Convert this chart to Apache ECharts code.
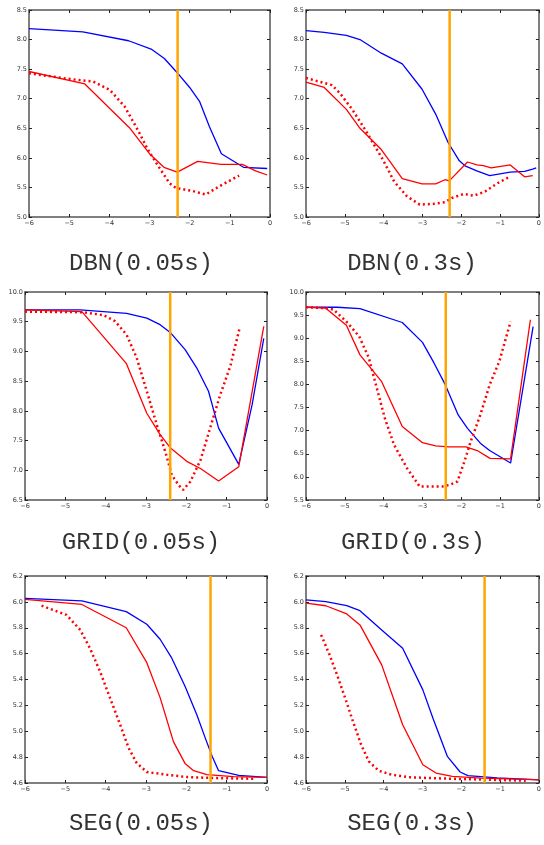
<!DOCTYPE html>
<html><head><meta charset="utf-8">
<script src="https://cdn.jsdelivr.net/npm/echarts@6/dist/echarts.min.js"></script>
<style>html,body{margin:0;padding:0;background:#fff}#c{width:544px;height:845px}</style>
</head><body><div id="c"></div>
<script>
// Panel titles
const titles = ['DBN(0.05s)', 'DBN(0.3s)', 'GRID(0.05s)', 'GRID(0.3s)', 'SEG(0.05s)', 'SEG(0.3s)'];
// y-axis ranges [min, max, interval]
const yRanges = [[5.0, 8.5, 0.5], [5.0, 8.5, 0.5], [6.5, 10.0, 0.5], [5.5, 10.0, 0.5], [4.6, 6.2, 0.2], [4.6, 6.2, 0.2]];
// orange vertical line positions (log10 x)
const vlineX = [-2.3, -2.3, -2.4, -2.4, -1.4, -1.4];

// DBN 0.05s
const dbn005Blue = [[-6,8.185],[-4.66,8.13],[-3.52,7.98],[-2.96,7.84],[-2.63,7.68],[-2.31,7.44],[-2.0,7.19],[-1.75,6.95],[-1.51,6.53],[-1.21,6.07],[-0.66,5.84],[-0.07,5.82]];
const dbn005Red = [[-6,7.46],[-4.61,7.25],[-3.5,6.51],[-3.0,6.07],[-2.64,5.84],[-2.31,5.76],[-1.8,5.94],[-1.22,5.89],[-0.69,5.89],[-0.36,5.78],[-0.07,5.71]];
const dbn005Dot = [[-6,7.43],[-5.07,7.34],[-4.4,7.29],[-3.99,7.15],[-3.62,6.87],[-3.29,6.47],[-3.04,6.14],[-2.83,5.91],[-2.5,5.57],[-2.34,5.49],[-1.93,5.44],[-1.6,5.38],[-1.26,5.52],[-0.77,5.70]];
// DBN 0.3s
const dbn03Blue = [[-6,8.15],[-5.53,8.12],[-4.96,8.07],[-4.61,8.0],[-4.06,7.77],[-3.52,7.59],[-3.01,7.16],[-2.66,6.74],[-2.34,6.26],[-2.05,5.95],[-1.89,5.86],[-1.6,5.78],[-1.27,5.7],[-0.74,5.76],[-0.37,5.77],[-0.16,5.81],[-0.07,5.83]];
const dbn03Red = [[-6,7.28],[-5.53,7.19],[-4.96,6.82],[-4.61,6.5],[-4.06,6.14],[-3.52,5.65],[-3.01,5.56],[-2.66,5.56],[-2.42,5.63],[-2.31,5.61],[-1.84,5.93],[-1.6,5.88],[-1.43,5.87],[-1.23,5.83],[-0.74,5.88],[-0.37,5.68],[-0.16,5.7]];
const dbn03Dot = [[-6,7.35],[-5.33,7.23],[-5.12,7.09],[-4.8,6.81],[-4.47,6.47],[-4.22,6.19],[-4.02,5.97],[-3.73,5.6],[-3.4,5.35],[-3.07,5.21],[-2.75,5.22],[-2.42,5.25],[-2.25,5.32],[-1.93,5.39],[-1.68,5.36],[-1.39,5.43],[-1.07,5.57],[-0.78,5.67]];
// GRID 0.05s
const grid005Blue = [[-6,9.7],[-4.63,9.7],[-3.48,9.64],[-2.98,9.56],[-2.65,9.45],[-2.4,9.32],[-2.03,9.03],[-1.74,8.72],[-1.45,8.33],[-1.2,7.71],[-0.7,7.1],[-0.37,8.1],[-0.08,9.22]];
const grid005Red = [[-6,9.7],[-4.59,9.67],[-3.49,8.8],[-2.98,7.96],[-2.65,7.6],[-2.4,7.38],[-1.99,7.15],[-1.65,7.03],[-1.2,6.82],[-0.7,7.06],[-0.08,9.42]];
const grid005Dot = [[-6,9.67],[-4.55,9.66],[-4.05,9.61],[-3.77,9.51],[-3.48,9.28],[-3.23,8.89],[-2.98,8.33],[-2.73,7.76],[-2.52,7.31],[-2.36,6.92],[-2.19,6.75],[-2.08,6.67],[-1.9,6.81],[-1.65,7.17],[-1.41,7.71],[-1.16,8.27],[-0.91,8.75],[-0.68,9.39]];
// GRID 0.3s
const grid03Blue = [[-6,9.67],[-5.2,9.67],[-4.61,9.64],[-3.52,9.34],[-3.0,8.91],[-2.7,8.46],[-2.41,7.99],[-2.08,7.34],[-1.84,7.05],[-1.51,6.73],[-1.27,6.57],[-0.73,6.3],[-0.15,9.25]];
const grid03Red = [[-6,9.67],[-5.49,9.65],[-4.96,9.28],[-4.61,8.64],[-4.05,8.06],[-3.52,7.09],[-3.0,6.74],[-2.66,6.67],[-2.33,6.65],[-1.88,6.65],[-1.59,6.57],[-1.26,6.4],[-0.73,6.39],[-0.22,9.4]];
const grid03Dot = [[-6,9.67],[-5.49,9.65],[-5.29,9.62],[-4.96,9.36],[-4.63,9.04],[-4.38,8.57],[-4.22,8.06],[-3.97,7.27],[-3.73,6.69],[-3.4,6.19],[-3.07,5.79],[-2.74,5.79],[-2.5,5.79],[-2.29,5.83],[-2.1,5.9],[-1.92,6.33],[-1.76,6.76],[-1.51,7.34],[-1.27,7.99],[-1.02,8.5],[-0.73,9.36]];
// SEG 0.05s
const seg005Blue = [[-6,6.027],[-4.59,6.007],[-3.49,5.925],[-2.98,5.827],[-2.65,5.711],[-2.36,5.565],[-2.03,5.346],[-1.74,5.127],[-1.53,4.947],[-1.36,4.806],[-1.2,4.695],[-0.7,4.659],[0,4.644]];
const seg005Red = [[-6,6.02],[-4.59,5.98],[-3.49,5.8],[-2.98,5.53],[-2.65,5.26],[-2.32,4.92],[-2.03,4.75],[-1.82,4.695],[-1.49,4.664],[-0.83,4.65],[0,4.644]];
const seg005Dot = [[-5.59,5.971],[-4.97,5.899],[-4.63,5.783],[-4.39,5.642],[-4.14,5.462],[-3.89,5.256],[-3.64,5.05],[-3.43,4.87],[-3.23,4.754],[-2.98,4.685],[-2.48,4.664],[-1.99,4.646],[-1.32,4.638],[-0.33,4.633]];
// SEG 0.3s
const seg03Blue = [[-6,6.015],[-5.49,6.002],[-4.95,5.971],[-4.61,5.932],[-4.05,5.783],[-3.51,5.642],[-2.99,5.32],[-2.73,5.101],[-2.36,4.806],[-2.03,4.685],[-1.83,4.657],[-1.08,4.639],[-0.12,4.626],[0,4.625]];
const seg03Red = [[-6,5.99],[-5.49,5.97],[-4.95,5.907],[-4.61,5.822],[-4.05,5.513],[-3.51,5.05],[-2.99,4.741],[-2.65,4.677],[-2.23,4.651],[-1.49,4.638],[-0.12,4.626],[0,4.625]];
const seg03Dot = [[-5.61,5.745],[-5.41,5.603],[-5.2,5.436],[-4.99,5.256],[-4.79,5.076],[-4.58,4.896],[-4.38,4.767],[-4.13,4.695],[-3.8,4.664],[-3.31,4.644],[-2.31,4.633],[-0.34,4.618]];

const blues = [dbn005Blue, dbn03Blue, grid005Blue, grid03Blue, seg005Blue, seg03Blue];
const reds = [dbn005Red, dbn03Red, grid005Red, grid03Red, seg005Red, seg03Red];
const dots = [dbn005Dot, dbn03Dot, grid005Dot, grid03Dot, seg005Dot, seg03Dot];

// layout
const grids = [
  {left: 29, top: 10, width: 241, height: 207},
  {left: 306, top: 10, width: 248, height: 207},
  {left: 25, top: 292, width: 242, height: 208},
  {left: 306, top: 292, width: 244, height: 208},
  {left: 25, top: 576, width: 242, height: 207},
  {left: 306, top: 576, width: 243, height: 207}
];
const titlePos = [[141, 263.5], [412, 263.5], [141, 542.5], [413, 542.5], [141, 823.5], [412, 823.5]];

const axisLine = {show: true, onZero: false, lineStyle: {color: '#555', width: 1.5}};
const axisTick = {show: true, inside: true, length: 3, lineStyle: {color: '#222', width: 1}};
const labelFont = {fontSize: 6.5, color: '#333', fontFamily: 'DejaVu Sans'};
const fmtX = v => (v < 0 ? '\u2212' + Math.abs(v) : String(v));

const xAxis = [], yAxis = [], series = [], graphic = [];
grids.forEach((g, i) => {
  const [ymin, ymax, yint] = yRanges[i];
  xAxis.push({gridIndex: i, type: 'value', min: -6, max: 0, interval: 1, position: 'bottom',
    axisLine, axisTick, splitLine: {show: false},
    axisLabel: Object.assign({margin: 3, formatter: fmtX, showMinLabel: true, showMaxLabel: true}, labelFont)});
  xAxis.push({gridIndex: i, type: 'value', min: -6, max: 0, interval: 1, position: 'top',
    axisLine, axisTick, splitLine: {show: false}, axisLabel: {show: false}});
  yAxis.push({gridIndex: i, type: 'value', min: ymin, max: ymax, interval: yint, position: 'left',
    axisLine, axisTick, splitLine: {show: false},
    axisLabel: Object.assign({margin: 2, formatter: v => v.toFixed(1), showMinLabel: true, showMaxLabel: true}, labelFont)});
  yAxis.push({gridIndex: i, type: 'value', min: ymin, max: ymax, interval: yint, position: 'right',
    axisLine, axisTick, splitLine: {show: false}, axisLabel: {show: false}});
  const xi = 2 * i, yi = 2 * i;
  series.push({type: 'line', xAxisIndex: xi, yAxisIndex: yi, data: blues[i], symbol: 'none',
    lineStyle: {color: '#0000ff', width: 1.3}, z: 2});
  series.push({type: 'line', xAxisIndex: xi, yAxisIndex: yi, data: reds[i], symbol: 'none',
    lineStyle: {color: '#ff0000', width: 1.3}, z: 3});
  series.push({type: 'line', xAxisIndex: xi, yAxisIndex: yi, data: dots[i], symbol: 'none',
    lineStyle: {color: '#ff0000', width: 2.5, type: [2, 3], cap: 'butt'}, z: 3});
  series.push({type: 'line', xAxisIndex: xi, yAxisIndex: yi, data: [[vlineX[i], ymin], [vlineX[i], ymax]], symbol: 'none',
    lineStyle: {color: '#ffa500', width: 2.5}, z: 4});
  graphic.push({type: 'text', x: titlePos[i][0], y: titlePos[i][1],
    style: {text: titles[i], font: '24px "Liberation Mono", monospace', fill: '#333', align: 'center', verticalAlign: 'middle',
      textAlign: 'center', textVerticalAlign: 'middle'}});
});

const chart = echarts.init(document.getElementById('c'), null, {renderer: 'canvas'});
chart.setOption({animation: false, grid: grids, xAxis, yAxis, series, graphic});
</script></body></html>
